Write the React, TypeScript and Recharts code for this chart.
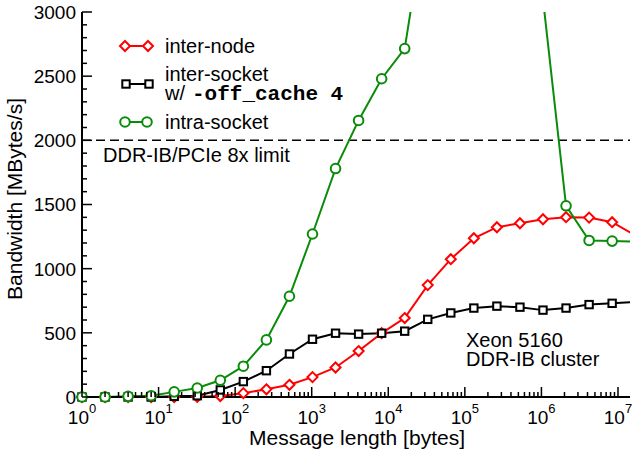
import React from "react";
import { LineChart, Line, XAxis, YAxis, ReferenceLine, Legend } from "recharts";

// message sizes 2^0 .. 2^24 bytes
const msgLength = [
  1, 2, 4, 8, 16, 32, 64, 128, 256, 512, 1024, 2048, 4096, 8192, 16384, 32768,
  65536, 131072, 262144, 524288, 1048576, 2097152, 4194304, 8388608, 16777216,
];

// bandwidth in MBytes/s
const interNode = [
  0, 0, 0, 0, 0, 2, 8, 30, 60, 95, 155, 230, 358, 498, 615, 872, 1074, 1237,
  1323, 1354, 1385, 1401, 1398, 1362, 1260,
];
const interSocket = [
  0, 0, 0, 0, 5, 10, 55, 120, 205, 335, 450, 497, 490, 497, 513, 605, 655, 693,
  708, 700, 677, 693, 720, 730, 740,
];
const intraSocket = [
  0, 0, 5, 10, 40, 70, 130, 240, 445, 785, 1270, 1780, 2155, 2480, 2715, 3850,
  4900, 5400, 5600, 5000, 3100, 1490, 1220, 1215, 1210,
];

const xMajorTicks = [1, 10, 100, 1000, 10000, 100000, 1000000, 10000000];
const limitBandwidth = 2000;
const X_DOMAIN = [1, 14350000];
const Y_DOMAIN = [0, 3000];

const FONT = "'Liberation Sans', Arial, Helvetica, sans-serif";
const RED = "#ff0000";
const GREEN = "#0a8c0a";
const BLACK = "#000000";

const xTicks = xMajorTicks.flatMap((m) =>
  m === 10000000 ? [m] : [m, 2 * m, 3 * m, 4 * m, 5 * m, 6 * m, 7 * m, 8 * m, 9 * m]
);
const yTicks: number[] = [];
for (let v = 0; v <= 3000; v += 100) yTicks.push(v);

const data = msgLength.map((len, i) => ({
  len,
  interNode: interNode[i],
  interSocket: interSocket[i],
  intraSocket: intraSocket[i],
}));

// markers are drawn unclipped (like the original), so only points inside the frame get one
const visiblePoints = (values: number[]) =>
  msgLength
    .map((len, i) => ({ len, v: values[i] }))
    .filter((d) => d.len <= X_DOMAIN[1] && d.v <= Y_DOMAIN[1]);

const BottomTick = ({ x, y, payload }: any) => {
  const v = payload.value;
  const major = xMajorTicks.includes(v);
  return (
    <g>
      <line x1={x} x2={x} y1={y} y2={y - (major ? 10 : 5)} stroke={BLACK} strokeWidth={1.5} />
      {major && (
        <text x={x} y={y + 27} textAnchor="middle" fontSize={19} fontFamily={FONT} fill={BLACK}>
          10
          <tspan dy={-11} fontSize={13}>
            {Math.round(Math.log10(v))}
          </tspan>
        </text>
      )}
    </g>
  );
};

const TopTick = ({ x, y, payload }: any) => {
  const major = xMajorTicks.includes(payload.value);
  return <line x1={x} x2={x} y1={y} y2={y + (major ? 10 : 5)} stroke={BLACK} strokeWidth={1.5} />;
};

const LeftTick = ({ x, y, payload }: any) => {
  const major = payload.value % 500 === 0;
  return (
    <g>
      <line x1={x} x2={x + (major ? 10 : 5)} y1={y} y2={y} stroke={BLACK} strokeWidth={1.5} />
      {major && (
        <text x={x - 6} y={y} dy="0.36em" textAnchor="end" fontSize={19} fontFamily={FONT} fill={BLACK}>
          {payload.value}
        </text>
      )}
    </g>
  );
};

const RightTick = ({ x, y, payload }: any) => {
  const major = payload.value % 500 === 0;
  return <line x1={x} x2={x - (major ? 10 : 5)} y1={y} y2={y} stroke={BLACK} strokeWidth={1.5} />;
};

const diamond = (cx: number, cy: number, key?: any) => (
  <polygon
    key={key}
    points={`${cx},${cy - 5} ${cx + 5},${cy} ${cx},${cy + 5} ${cx - 5},${cy}`}
    fill="#fff"
    stroke={RED}
    strokeWidth={2}
  />
);
const square = (cx: number, cy: number, key?: any) => (
  <rect key={key} x={cx - 3.7} y={cy - 3.7} width={7.4} height={7.4} fill="#fff" stroke={BLACK} strokeWidth={2} />
);
const circle = (cx: number, cy: number, key?: any) => (
  <circle key={key} cx={cx} cy={cy} r={4.8} fill="#fff" stroke={GREEN} strokeWidth={2} />
);

const renderLegend = () => (
  <svg width={360} height={140} style={{ display: "block" }}>
    <g fontFamily={FONT} fontSize={20} fill={BLACK}>
      <line x1={125} x2={148} y1={46} y2={46} stroke={RED} strokeWidth={2} />
      {diamond(125, 46)}
      {diamond(148, 46)}
      <text x={165} y={53}>inter-node</text>

      <line x1={126} x2={149} y1={84} y2={84} stroke={BLACK} strokeWidth={2} />
      {square(126, 84)}
      {square(149, 84)}
      <text x={165} y={81}>inter-socket</text>
      <text x={165} y={100}>
        w/
        <tspan x={192} fontFamily="'Liberation Mono', 'Courier New', monospace" fontWeight="bold" fontSize={21}>
          -off_cache 4
        </tspan>
      </text>

      <line x1={125} x2={147} y1={122} y2={122} stroke={GREEN} strokeWidth={2} />
      {circle(125, 122)}
      {circle(147, 122)}
      <text x={165} y={129}>intra-socket</text>
    </g>
  </svg>
);

const series = [
  { key: "interNode", values: interNode, color: RED, marker: diamond },
  { key: "interSocket", values: interSocket, color: BLACK, marker: square },
  { key: "intraSocket", values: intraSocket, color: GREEN, marker: circle },
];

export default function App() {
  return (
    <div style={{ position: "absolute", left: 0, top: 0, background: "#fff" }}>
      <LineChart width={632} height={454} data={data} margin={{ top: 12, right: 2, bottom: 0, left: 0 }}>
        <XAxis
          dataKey="len"
          type="number"
          scale="log"
          domain={X_DOMAIN}
          allowDataOverflow
          ticks={xTicks}
          interval={0}
          tick={BottomTick}
          tickLine={false}
          tickSize={0}
          tickMargin={0}
          height={57}
          axisLine={{ stroke: BLACK, strokeWidth: 2 }}
          label={{
            content: ({ viewBox }: any) => (
              <text x={viewBox.x + viewBox.width / 2 + 1} y={445} textAnchor="middle" fontSize={21} fontFamily={FONT} fill={BLACK}>
                Message length [bytes]
              </text>
            ),
          }}
        />
        <XAxis
          xAxisId="top"
          orientation="top"
          dataKey="len"
          type="number"
          scale="log"
          domain={X_DOMAIN}
          allowDataOverflow
          ticks={xTicks}
          interval={0}
          tick={TopTick}
          tickLine={false}
          tickSize={0}
          tickMargin={0}
          height={0}
          axisLine={{ stroke: BLACK, strokeWidth: 2 }}
        />
        <XAxis xAxisId="pts" dataKey="len" type="number" scale="log" domain={X_DOMAIN} hide />
        <YAxis
          type="number"
          domain={Y_DOMAIN}
          allowDataOverflow
          ticks={yTicks}
          interval={0}
          tick={LeftTick}
          tickLine={false}
          tickSize={0}
          tickMargin={0}
          width={82}
          axisLine={{ stroke: BLACK, strokeWidth: 2 }}
          label={{
            content: () => (
              <text
                x={22}
                y={199}
                transform="rotate(-90, 22, 199)"
                textAnchor="middle"
                fontSize={21}
                fontFamily={FONT}
                fill={BLACK}
              >
                Bandwidth [MBytes/s]
              </text>
            ),
          }}
        />
        <YAxis
          yAxisId="right"
          orientation="right"
          type="number"
          domain={Y_DOMAIN}
          allowDataOverflow
          ticks={yTicks}
          interval={0}
          tick={RightTick}
          tickLine={false}
          tickSize={0}
          tickMargin={0}
          width={0}
          axisLine={{ stroke: BLACK, strokeWidth: 2 }}
        />
        <YAxis yAxisId="pts" type="number" domain={Y_DOMAIN} hide />
        <ReferenceLine
          y={limitBandwidth}
          stroke={BLACK}
          strokeWidth={1.5}
          strokeDasharray="9 5"
          label={{
            content: ({ viewBox }: any) => (
              <text x={viewBox.x + 21} y={viewBox.y + 22} fontSize={20} fontFamily={FONT} fill={BLACK}>
                DDR-IB/PCIe 8x limit
              </text>
            ),
          }}
        />
        {series.flatMap((s) => [
          <Line
            key={s.key}
            dataKey={s.key}
            stroke={s.color}
            strokeWidth={2}
            dot={false}
            activeDot={false}
            isAnimationActive={false}
          />,
          <Line
            key={`${s.key}-pts`}
            data={visiblePoints(s.values)}
            xAxisId="pts"
            yAxisId="pts"
            dataKey="v"
            stroke="none"
            dot={(p: any) => s.marker(p.cx, p.cy, `${s.key}-${p.index}`)}
            activeDot={false}
            isAnimationActive={false}
          />,
        ])}
        <text fontSize={20} fontFamily={FONT} fill={BLACK}>
          <tspan x={466} y={347}>Xeon 5160</tspan>
          <tspan x={466} y={366}>DDR-IB cluster</tspan>
        </text>
        <Legend
          layout="vertical"
          align="center"
          verticalAlign="middle"
          content={renderLegend}
          wrapperStyle={{ left: 0, top: 0, width: 360, height: 140 }}
        />
      </LineChart>
    </div>
  );
}
